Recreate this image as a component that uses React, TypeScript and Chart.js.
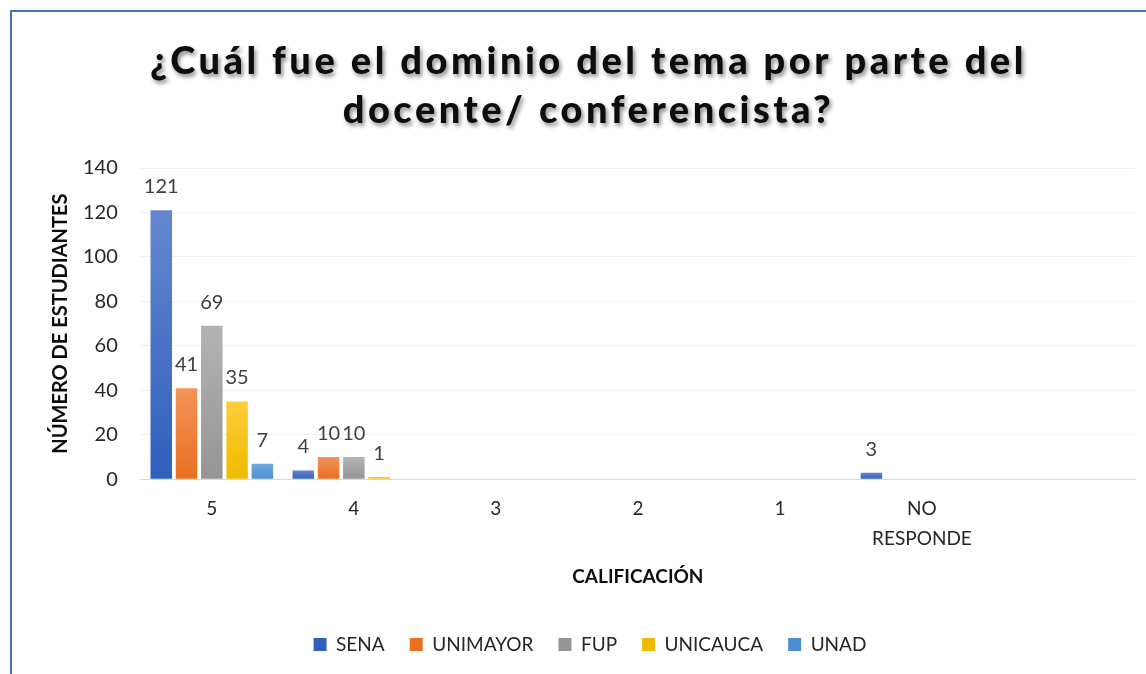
import React, { useEffect, useRef } from 'react';
import { Chart, registerables } from 'chart.js';

Chart.register(...registerables);

const TITLE_LINES = ['¿Cuál fue el dominio del tema por parte del', 'docente/ conferencista?'];
const categories: (string | string[])[] = ['5', '4', '3', '2', '1', ['NO', 'RESPONDE'], ''];
const seriesNames = ['SENA', 'UNIMAYOR', 'FUP', 'UNICAUCA', 'UNAD'];
const sena = [121, 4, null, null, null, 3, null];
const unimayor = [41, 10, null, null, null, null, null];
const fup = [69, 10, null, null, null, null, null];
const unicauca = [35, 1, null, null, null, null, null];
const unad = [7, null, null, null, null, null, null];
const yMin = 0;
const yMax = 140;
const yStep = 20;
const yTitle = 'NÚMERO DE ESTUDIANTES';
const xTitle = 'CALIFICACIÓN';

const seriesValues = [sena, unimayor, fup, unicauca, unad];
const colorPairs = [
  ['#6487cf', '#2f5fbd'],
  ['#f3935a', '#e8701f'],
  ['#b3b3b3', '#959595'],
  ['#ffcd3a', '#eebb00'],
  ['#6fa8dc', '#4b8fd0'],
];

const FONT = 'Lato, "Open Sans", sans-serif';

const titlePlugin = {
  id: 'customTitle',
  afterDraw(chart: any) {
    const ctx = chart.ctx;
    ctx.save();
    ctx.font = `900 38px ${FONT}`;
    (ctx as any).letterSpacing = '3.5px';
    ctx.fillStyle = '#0d0d0d';
    ctx.textAlign = 'center';
    ctx.textBaseline = 'middle';
    ctx.shadowColor = 'rgba(0,0,0,0.45)';
    ctx.shadowBlur = 4;
    ctx.shadowOffsetX = 2;
    ctx.shadowOffsetY = 3;
    const cx = chart.width / 2 + 2;
    ctx.fillText(TITLE_LINES[0], cx, 62);
    ctx.fillText(TITLE_LINES[1], cx, 111);
    ctx.restore();
  },
};

const dataLabelPlugin = {
  id: 'dataLabels',
  afterDatasetsDraw(chart: any) {
    const ctx = chart.ctx;
    ctx.save();
    ctx.font = `20px ${FONT}`;
    ctx.fillStyle = '#404040';
    ctx.textAlign = 'center';
    ctx.textBaseline = 'alphabetic';
    chart.data.datasets.forEach((ds: any, i: number) => {
      const meta = chart.getDatasetMeta(i);
      if (meta.hidden) return;
      meta.data.forEach((el: any, j: number) => {
        const v = ds.data[j];
        if (v == null) return;
        ctx.fillText(String(v), el.x, el.y - 17);
      });
    });
    ctx.restore();
  },
};

export default function App() {
  const canvasRef = useRef<HTMLCanvasElement | null>(null);

  useEffect(() => {
    if (!canvasRef.current) return;
    const chart = new Chart(canvasRef.current, {
      type: 'bar',
      data: {
        labels: categories,
        datasets: seriesNames.map((name, i) => ({
          label: name,
          data: seriesValues[i],
          backgroundColor: (c: any) => {
            const ch = c.chart;
            const area = ch.chartArea;
            const raw = c.raw;
            if (!area || raw == null || c.type !== 'data') return colorPairs[i][1];
            const ys = ch.scales.y;
            const top = ys.getPixelForValue(raw);
            const bottom = ys.getPixelForValue(0);
            if (!(bottom - top > 1)) return colorPairs[i][1];
            const g = ch.ctx.createLinearGradient(0, top, 0, bottom);
            g.addColorStop(0, colorPairs[i][0]);
            g.addColorStop(1, colorPairs[i][1]);
            return g;
          },
          borderWidth: 0,
          categoryPercentage: 0.89,
          barPercentage: 0.85,
        })),
      },
      options: {
        animation: false,
        responsive: true,
        maintainAspectRatio: false,
        layout: { padding: { top: 168, left: 45, right: 38, bottom: 10 } },
        plugins: {
          title: { display: false },
          tooltip: { enabled: false },
          legend: {
            position: 'bottom',
            labels: {
              boxWidth: 13,
              boxHeight: 13,
              padding: 25,
              color: '#262626',
              font: { family: FONT, size: 19 },
              generateLabels: (ch: any) =>
                ch.data.datasets.map((ds: any, i: number) => ({
                  text: ds.label,
                  fillStyle: colorPairs[i][1],
                  strokeStyle: colorPairs[i][1],
                  lineWidth: 0,
                  hidden: false,
                  datasetIndex: i,
                  fontColor: '#262626',
                })),
            },
          },
        },
        scales: {
          x: {
            grid: { display: false, drawTicks: false },
            border: { display: true, color: '#d9d9d9', width: 1 },
            ticks: {
              color: '#262626',
              padding: 15,
              maxRotation: 0,
              autoSkip: false,
              font: { family: FONT, size: 19, lineHeight: 1.55 },
            },
            title: {
              display: true,
              text: xTitle,
              color: '#0d0d0d',
              font: { family: FONT, size: 19, weight: 'bold' },
              padding: { top: -3, bottom: 22 },
            },
          },
          y: {
            min: yMin,
            max: yMax,
            grid: { color: '#efefef', drawTicks: false },
            border: { display: false },
            ticks: {
              stepSize: yStep,
              color: '#262626',
              padding: 23,
              font: { family: FONT, size: 20 },
            },
            title: {
              display: true,
              text: yTitle,
              color: '#0d0d0d',
              font: { family: FONT, size: 20, weight: 'bold' },
              padding: { top: 4, bottom: -13 },
            },
          },
        },
      },
      plugins: [titlePlugin, dataLabelPlugin],
    } as any);
    return () => chart.destroy();
  }, []);

  return (
    <div style={{ position: 'absolute', left: 0, top: 0, width: 1146, height: 674, overflow: 'hidden', background: '#fff' }}>
      <div style={{ position: 'absolute', left: 0, top: 0, width: 1173, height: 674 }}>
        <canvas ref={canvasRef} />
      </div>
      <div
        style={{
          position: 'absolute',
          left: 10,
          top: 10,
          width: 1136,
          height: 664,
          borderLeft: '2px solid #4472c4',
          borderTop: '2px solid #4472c4',
          boxSizing: 'border-box',
          pointerEvents: 'none',
        }}
      />
    </div>
  );
}
